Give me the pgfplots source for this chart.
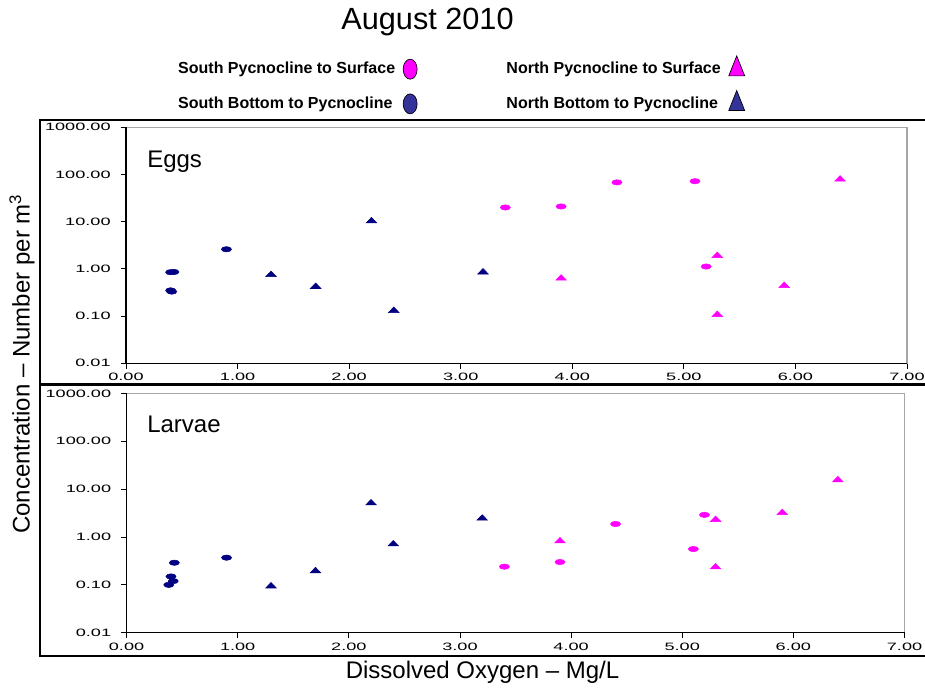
\documentclass[border=0pt]{standalone}
\usepackage{pgfplots}
\pgfplotsset{compat=1.18}
\usepackage{fontspec}
\setmainfont{Liberation Sans}
\newfontfamily\tickfont[FakeStretch=1.7]{Liberation Sans}
\definecolor{mag}{HTML}{FF00FF}
\definecolor{nav}{HTML}{000080}
\definecolor{legnav}{HTML}{333399}
\pgfplotsset{
  every axis/.append style={scale only axis, xmin=0, xmax=7, ymin=0.01, ymax=1000,
    xtick={0,1,2,3,4,5,6,7},
    xticklabels={0.00,1.00,2.00,3.00,4.00,5.00,6.00,7.00},
    ytick={0.01,0.1,1,10,100,1000},
    yticklabels={0.01,0.10,1.00,10.00,100.00,1000.00},
    yminorticks=false, tick align=outside, xtick pos=left, ytick pos=left,
    major tick length=4pt, tick style={black, line width=0.6pt},
    axis line style={draw=gray!70, line width=0.8pt},
    ticklabel style={font=\tickfont\fontsize{8}{9}\selectfont},
    yticklabel style={xshift=-4pt},
    clip=false},
  mysp/.style={only marks, mark=*, mark size=2pt, mark options={xscale=1.9, yscale=1, draw=none}},
  mytri/.style={only marks, mark=triangle*, mark size=4.6pt, mark options={yscale=0.6, draw=none}},
}
\begin{document}
\begin{tikzpicture}[x=0.75pt,y=0.75pt]
\useasboundingbox (0,0) rectangle (925,689);
\draw[line width=1pt] (40,304) rectangle (940,569);
\draw[line width=1pt] (40,33) rectangle (940,305);
\node[font=\fontsize{23}{26}\selectfont] at (427.5,667) {August 2010};
\node[font=\fontsize{18}{20}\selectfont] at (482.5,17) {Dissolved Oxygen -- Mg/L};
\node[font=\fontsize{18}{20}\selectfont, rotate=90] at (22,325) {Concentration -- Number per m\textsuperscript{3}};
\node[font=\fontsize{18}{20}\selectfont, anchor=west, inner sep=0pt] at (147,527) {Eggs};
\node[font=\fontsize{18}{20}\selectfont, anchor=west, inner sep=0pt] at (147,265) {Larvae};

\begin{semilogyaxis}[at={(94.5pt,244.3pt)}, anchor=south west, width=585.75pt, height=177pt,
  legend columns=2, legend plot pos=right, legend cell align=left,
  legend style={at={(axis description cs:0.058,1.315)}, anchor=north west, draw=none, fill=none,
    font=\bfseries\fontsize{12}{14}\selectfont, row sep=8.5pt,
    /tikz/every odd column/.append style={column sep=4pt},
    /tikz/every even column/.append style={column sep=65pt}}]
\addlegendimage{only marks, mark=*, mark size=7.5pt, mark options={xscale=0.7, fill=mag, draw=black, line width=0.5pt}}
\addlegendentry{South Pycnocline to Surface}
\addlegendimage{only marks, mark=triangle*, mark size=10pt, mark options={xscale=0.69, fill=mag, draw=black, line width=0.5pt}}
\addlegendentry{North Pycnocline to Surface}
\addlegendimage{only marks, mark=*, mark size=7.5pt, mark options={xscale=0.7, fill=legnav, draw=black, line width=0.5pt}}
\addlegendentry{South Bottom to Pycnocline}
\addlegendimage{only marks, mark=triangle*, mark size=10pt, mark options={xscale=0.69, fill=legnav, draw=black, line width=0.5pt}}
\addlegendentry{North Bottom to Pycnocline}
% Eggs
\addplot[mysp, color=mag, forget plot] coordinates {(3.4,20) (3.9,21) (4.4,68) (5.1,72) (5.2,1.12)};
\addplot[mytri, color=mag, forget plot] coordinates {(3.9,0.63) (5.3,1.9) (5.3,0.107) (5.9,0.44) (6.4,79)};
\addplot[mysp, color=nav, forget plot] coordinates {(0.40,0.85) (0.43,0.86) (0.40,0.35) (0.41,0.33) (0.90,2.6)};
\addplot[mytri, color=nav, forget plot] coordinates {(1.3,0.75) (1.7,0.42) (2.2,10.3) (2.4,0.13) (3.2,0.85)};
\draw[black,line width=0.8pt] (rel axis cs:0,1)--(rel axis cs:0,0)--(rel axis cs:1,0);
\end{semilogyaxis}

\begin{semilogyaxis}[at={(94.9pt,42.2pt)}, anchor=south west, width=583.5pt, height=179.5pt]
% Larvae
\addplot[mysp, color=mag] coordinates {(3.4,0.24) (3.9,0.30) (4.4,1.87) (5.1,0.56) (5.2,2.9)};
\addplot[mytri, color=mag] coordinates {(3.9,0.82) (5.3,2.3) (5.3,0.235) (5.9,3.2) (6.4,15.5)};
\addplot[mysp, color=nav] coordinates {(0.43,0.29) (0.40,0.15) (0.42,0.12) (0.38,0.10) (0.90,0.37)};
\addplot[mytri, color=nav] coordinates {(1.3,0.094) (1.7,0.195) (2.2,5.1) (2.4,0.71) (3.2,2.45)};
\draw[black,line width=0.8pt] (rel axis cs:0,1)--(rel axis cs:0,0)--(rel axis cs:1,0);
\end{semilogyaxis}
\end{tikzpicture}
\end{document}
